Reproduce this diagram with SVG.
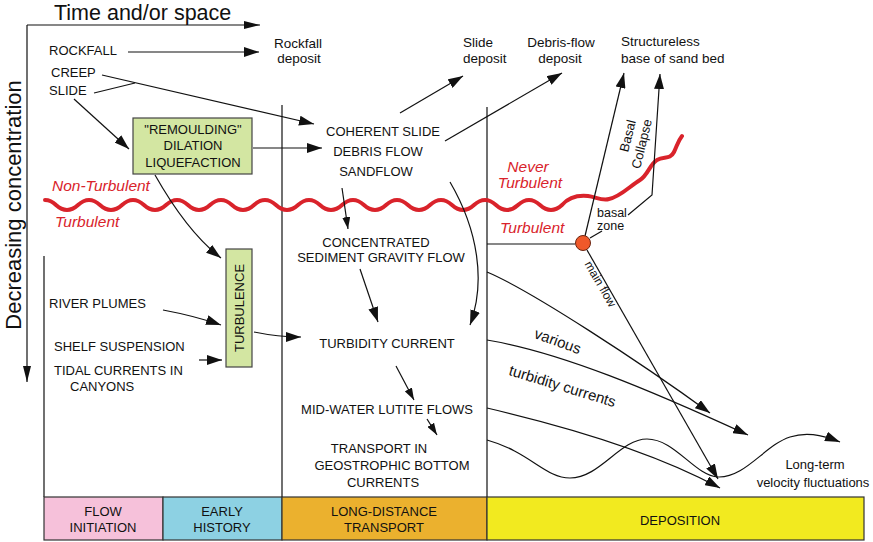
<svg xmlns="http://www.w3.org/2000/svg" width="873" height="542" viewBox="0 0 873 542">
<style>
text{font-family:"Liberation Sans",Arial,sans-serif;font-size:13px;fill:#111}
.m{text-anchor:middle}
.big{font-size:22px}
.red{fill:#d9232b;font-style:italic;font-size:15.5px}
.lc{font-size:13.5px}
.rot{font-size:15px}
.ln{fill:none;stroke:#111;stroke-width:1.2}
.ar{marker-end:url(#ah)}
.as{marker-end:url(#ahs)}
.ax{marker-end:url(#ahx)}
.grn{fill:#d3e6a2;stroke:#444;stroke-width:1.2}
.bx{stroke:#333;stroke-width:1.2}
</style>
<defs>
<marker id="ah" viewBox="0 0 15 10" refX="15" refY="5" markerWidth="15" markerHeight="10" markerUnits="userSpaceOnUse" orient="auto"><path d="M0,0 L15,5 L0,10 z" fill="#111"/></marker>
<marker id="ahs" viewBox="0 0 12 8" refX="12" refY="4" markerWidth="12" markerHeight="8" markerUnits="userSpaceOnUse" orient="auto"><path d="M0,0 L12,4 L0,8 z" fill="#111"/></marker>
<marker id="ahx" viewBox="0 0 16 8" refX="16" refY="4" markerWidth="16" markerHeight="8" markerUnits="userSpaceOnUse" orient="auto"><path d="M0,0 L16,4 L0,8 z" fill="#111"/></marker>
</defs>
<rect width="873" height="542" fill="#fff"/>

<g id="axes">
<text class="big" style="font-size:21.5px" x="54" y="19.5">Time and/or space</text>
<text class="big m" transform="translate(21,205) rotate(-90)">Decreasing concentration</text>
</g>

<g id="frame" class="ln">
<path class="ln" d="M44,256 V497"/>
<path class="ln" d="M282,105 V497"/>
<path class="ln" d="M487,107 V497"/>
</g>

<g id="wave">
<path d="M45,200 q6,0 11,5 q11,10 22,0 t22,0 t22,0 t22,0 t22,0 t22,0 t22,0 t22,0 t22,0 t22,0 t22,0 t22,0 t22,0 t22,0 t22,0 t22,0 t22,0 t22,0 t22,0 t22,0 t22,0 t22,0 t22,0 C568,198 578,195 588,196 C596,197 602,201 609,199 C620,197 630,186 640,180 C648,175 650,164 657,160 C664,156 670,160 674,152 C677,146 678,141 682,136" fill="none" stroke="#d9232b" stroke-width="4" stroke-linecap="round"/>
<text class="red" x="52" y="191">Non-Turbulent</text>
<text class="red" x="55" y="227">Turbulent</text>
<text class="red m" x="528" y="172">Never</text>
<text class="red m" x="530" y="188">Turbulent</text>
<text class="red" x="500" y="233">Turbulent</text>
</g>

<g id="connectors">
<path class="ln ax" d="M27,25 H260"/>
<path class="ln ax" d="M27,25 V382"/>
<path class="ln ar" d="M128,52 H259"/>
<path class="ln ar" d="M102,75 L314,124"/>
<path class="ln" d="M94,93 L135,83"/>
<path class="ln ar" d="M74,99 L129,149"/>
<path class="ln ar" d="M253,148 L322,148"/>
<path class="ln ar" d="M400,113 L463,76"/>
<path class="ln ar" d="M445,141 L562,73"/>
<path class="ln as" d="M342,188 L348,229"/>
<path class="ln ar" d="M450,182 C478,230 486,282 470,325"/>
<path class="ln ar" d="M360,269 L378,322"/>
<path class="ln ar" d="M155,175 C172,205 195,238 221,258"/>
<path class="ln ar" d="M163,310 Q195,316 221,325"/>
<path class="ln ar" d="M199,360 L222,360"/>
<path class="ln ar" d="M254,332 Q278,337 301,337"/>
<path class="ln as" d="M396,366 L414,400"/>
<path class="ln as" d="M427,419 L437,435"/>
<path class="ln ar" d="M585,236 L624,73"/>
<path class="ln ar" d="M628,215 L652,195 L660,74"/>
<path class="ln" d="M590,238 L602,231"/>
<path class="ln" d="M487,244 H575"/>
<path class="ln ar" d="M587,250 L718,479"/>
<path class="ln ar" d="M487,272 C530,290 640,362 710,413"/>
<path class="ln ar" d="M487,340 C560,352 650,390 748,435"/>
<path class="ln ar" d="M487,408 C560,425 650,450 720,488"/>
<path class="ln ar" d="M487,440 C530,452 545,478 570,478 C600,478 620,439 647,439 C675,439 695,476 718,477 C745,478 765,445 790,437 C805,432 820,434 840,442"/>
</g>

<g id="n-rockfall"><text x="49" y="55">ROCKFALL</text></g>
<g id="n-creep"><text x="51" y="77">CREEP</text></g>
<g id="n-slide"><text x="49" y="95">SLIDE</text></g>
<g id="n-rockfall-deposit"><text class="m lc" x="298" y="48">Rockfall</text><text class="m lc" x="299" y="63">deposit</text></g>
<g id="n-slide-deposit"><text class="lc" x="463" y="47">Slide</text><text class="lc" x="463" y="63">deposit</text></g>
<g id="n-debris-deposit"><text class="m lc" x="561" y="47">Debris-flow</text><text class="m lc" x="560" y="63">deposit</text></g>
<g id="n-structureless"><text class="lc" x="621" y="46">Structureless</text><text class="lc" x="621" y="63">base of sand bed</text></g>

<g id="n-remoulding">
<rect class="grn" x="133" y="118" width="119" height="56"/>
<text class="m" x="193" y="134">"REMOULDING"</text>
<text class="m" x="193" y="150">DILATION</text>
<text class="m" x="193" y="167">LIQUEFACTION</text>
</g>

<g id="n-coherent">
<text class="m" x="383" y="136">COHERENT SLIDE</text>
<text class="m" x="378" y="156">DEBRIS FLOW</text>
<text class="m" x="376" y="176">SANDFLOW</text>
</g>

<g id="n-turbulence">
<rect class="grn" x="226" y="249" width="26" height="118"/>
<text class="m" transform="translate(244,308) rotate(-90)">TURBULENCE</text>
</g>

<g id="n-river"><text x="49" y="308">RIVER PLUMES</text></g>
<g id="n-shelf"><text x="54" y="351">SHELF SUSPENSION</text></g>
<g id="n-tidal"><text x="54" y="375">TIDAL CURRENTS IN</text><text x="70" y="391">CANYONS</text></g>

<g id="n-csgf"><text class="m" x="376" y="247">CONCENTRATED</text><text class="m" x="381" y="262">SEDIMENT GRAVITY FLOW</text></g>
<g id="n-turbidity"><text class="m" x="387" y="348">TURBIDITY CURRENT</text></g>
<g id="n-midwater"><text class="m" x="387" y="414">MID-WATER LUTITE FLOWS</text></g>
<g id="n-geostrophic"><text class="m" x="379" y="453">TRANSPORT IN</text><text class="m" x="392" y="470">GEOSTROPHIC BOTTOM</text><text class="m" x="383" y="487">CURRENTS</text></g>

<g id="n-basal">
<circle cx="583" cy="243" r="7.5" fill="#f0592a" stroke="#6b2410" stroke-width="1"/>
<text style="font-size:12.5px" x="597" y="217">basal</text>
<text style="font-size:12.5px" x="597" y="229.5">zone</text>
<text class="m" transform="translate(632,137) rotate(-76)">Basal</text>
<text class="m" transform="translate(646,145) rotate(-76)">Collapse</text>
<text class="m" style="font-size:12px" transform="translate(597,286) rotate(60)">main flow</text>
</g>

<g id="n-various">
<text class="m rot" transform="translate(556,346) rotate(20)">various</text>
<text class="m rot" transform="translate(561,391) rotate(17)">turbidity currents</text>
</g>

<g id="n-longterm"><text class="m" x="815" y="469">Long-term</text><text class="m" x="813" y="487">velocity fluctuations</text></g>

<g id="phases">
<rect class="bx" x="44" y="497" width="119" height="43" fill="#f6c1da"/>
<rect class="bx" x="163" y="497" width="119" height="43" fill="#8dd1e3"/>
<rect class="bx" x="282" y="497" width="205" height="43" fill="#ebb12e"/>
<rect class="bx" x="487" y="497" width="377" height="43" fill="#f2ea1f"/>
<text class="m" x="103" y="516">FLOW</text><text class="m" x="103" y="532">INITIATION</text>
<text class="m" x="222" y="516">EARLY</text><text class="m" x="222" y="532">HISTORY</text>
<text class="m" x="384" y="516">LONG-DISTANCE</text><text class="m" x="384" y="532">TRANSPORT</text>
<text class="m" x="680" y="525">DEPOSITION</text>
</g>
</svg>
